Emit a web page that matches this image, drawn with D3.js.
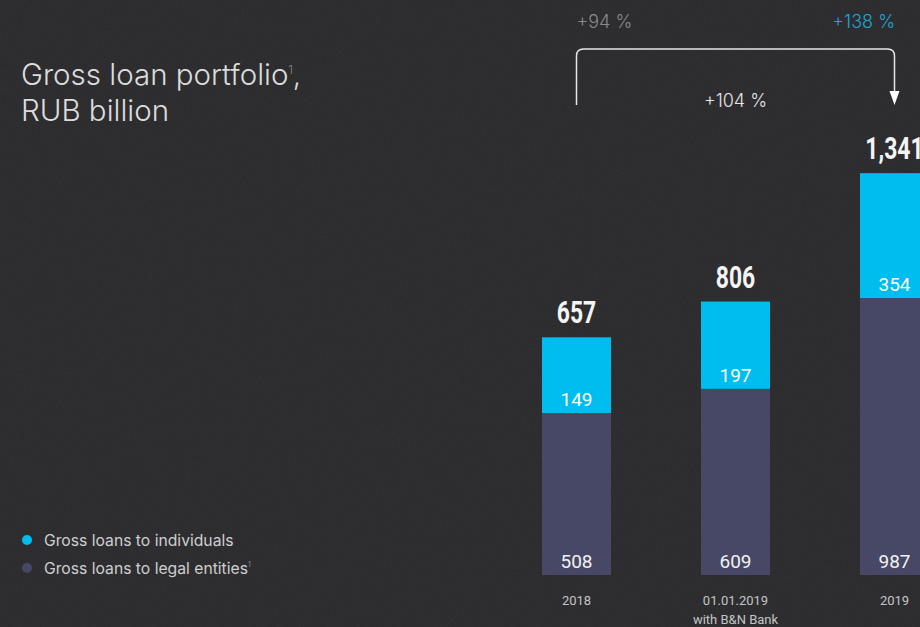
<!DOCTYPE html>
<html>
<head>
<meta charset="utf-8">
<script src="https://cdn.jsdelivr.net/npm/d3@7"></script>
<style>
  html, body { margin: 0; padding: 0; background: #2a2a2d; overflow: hidden; }
  svg { display: block; }
</style>
</head>
<body>
<div id="chart"></div>
<script>
// Chart data
const categories = ["2018", "01.01.2019", "2019"];
const categoryNotes = ["", "with B&N Bank", ""];
const individuals = [149, 197, 354];
const legalEntities = [508, 609, 987];
const totals = [657, 806, 1341];
const growthLabels = ["+94 %", "+104 %", "+138 %"];
const legendLabels = ["Gross loans to individuals", "Gross loans to legal entities"];

const width = 920, height = 627;
const baseline = 575;
const cyan = "#00bdf0";
const navy = "#464865";

const svg = d3.select("#chart").append("svg")
  .attr("width", width)
  .attr("height", height);

// background with a little grain
const defs = svg.append("defs");
const grain = defs.append("filter").attr("id", "grain");
grain.append("feTurbulence")
  .attr("type", "fractalNoise")
  .attr("baseFrequency", 0.9)
  .attr("numOctaves", 2)
  .attr("seed", 3);
grain.append("feColorMatrix").attr("type", "saturate").attr("values", 0);

svg.append("rect").attr("width", width).attr("height", height).attr("fill", "#2a2a2d");
svg.append("rect").attr("width", width).attr("height", height)
  .attr("filter", "url(#grain)").attr("opacity", 0.05);

// x positions of bars
const x = d3.scaleBand()
  .domain(categories)
  .range([542, 929])
  .paddingInner(90 / 159);

// segment heights (the original is not drawn strictly to scale)
const seg = d3.scaleLinear().domain([0, 1000]).range([40, 280]);

const rows = categories.map((c, i) => {
  const hLegal = seg(legalEntities[i]);
  const hInd = seg(individuals[i]);
  return {
    cat: c, note: categoryNotes[i], total: totals[i],
    legal: legalEntities[i], ind: individuals[i],
    yLegal: baseline - hLegal, hLegal: hLegal,
    yInd: baseline - hLegal - hInd, hInd: hInd
  };
});

const bars = svg.append("g").selectAll("g")
  .data(rows)
  .enter().append("g");

bars.append("rect")
  .attr("x", d => x(d.cat))
  .attr("y", d => d.yLegal)
  .attr("width", x.bandwidth())
  .attr("height", d => d.hLegal)
  .attr("fill", navy);

bars.append("rect")
  .attr("x", d => x(d.cat))
  .attr("y", d => d.yInd)
  .attr("width", x.bandwidth())
  .attr("height", d => d.hInd)
  .attr("fill", cyan);

const valueFont = "Roboto, 'Noto Sans', sans-serif";
const textFont = "Inter, Roboto, sans-serif";

// value labels inside segments
bars.append("text")
  .attr("x", d => x(d.cat) + x.bandwidth() / 2)
  .attr("y", baseline - 7)
  .attr("text-anchor", "middle")
  .attr("fill", "#f2f2f2")
  .style("font-family", valueFont)
  .style("font-size", "19px")
  .text(d => d.legal);

bars.append("text")
  .attr("x", d => x(d.cat) + x.bandwidth() / 2)
  .attr("y", d => d.yLegal - 7)
  .attr("text-anchor", "middle")
  .attr("fill", "#ffffff")
  .style("font-family", valueFont)
  .style("font-size", "19px")
  .text(d => d.ind);

// totals above bars, condensed bold figures
bars.append("text")
  .attr("transform", d => `translate(${x(d.cat) + x.bandwidth() / 2},${d.yInd - 14}) scale(0.74,1)`)
  .attr("text-anchor", "middle")
  .attr("fill", "#f4f4f4")
  .style("font-family", valueFont)
  .style("font-weight", "bold")
  .style("font-size", "31px")
  .text(d => d3.format(",")(d.total));

// category labels
bars.append("text")
  .attr("x", d => x(d.cat) + x.bandwidth() / 2)
  .attr("y", 605)
  .attr("text-anchor", "middle")
  .attr("fill", "#c4c4c4")
  .style("font-family", valueFont)
  .style("font-size", "13px")
  .text(d => d.cat);

bars.append("text")
  .attr("x", d => x(d.cat) + x.bandwidth() / 2)
  .attr("y", 624)
  .attr("text-anchor", "middle")
  .attr("fill", "#c4c4c4")
  .style("font-family", valueFont)
  .style("font-size", "13px")
  .text(d => d.note);

// growth bracket from 2018 to 2019
const x0 = x(categories[0]) + x.bandwidth() / 2;
const x2 = x(categories[2]) + x.bandwidth() / 2;
const yTop = 49, r = 7;
svg.append("path")
  .attr("d", `M${x0},105 V${yTop + r} Q${x0},${yTop} ${x0 + r},${yTop} H${x2 - r} Q${x2},${yTop} ${x2},${yTop + r} V92`)
  .attr("fill", "none")
  .attr("stroke", "#e6e6e6")
  .attr("stroke-width", 1.5);
svg.append("path")
  .attr("d", `M${x2 - 5},91 L${x2 + 5},91 L${x2},105 Z`)
  .attr("fill", "#ffffff");

svg.append("text")
  .attr("x", x0).attr("y", 28)
  .attr("fill", "#8a8a8c")
  .style("font-family", textFont).style("font-weight", 300).style("font-size", "18px")
  .text(growthLabels[0]);
svg.append("text")
  .attr("x", x(categories[1]) + x.bandwidth() / 2).attr("y", 107)
  .attr("text-anchor", "middle")
  .attr("fill", "#e6e6e6")
  .style("font-family", textFont).style("font-weight", 300).style("font-size", "18px")
  .text(growthLabels[1]);
svg.append("text")
  .attr("x", 895).attr("y", 28)
  .attr("text-anchor", "end")
  .attr("fill", "#1aa7d6")
  .style("font-family", textFont).style("font-weight", 300).style("font-size", "18px")
  .text(growthLabels[2]);

// title
const title = svg.append("text")
  .attr("x", 21).attr("y", 85)
  .attr("fill", "#dcdcdc")
  .style("font-family", textFont)
  .style("font-weight", 300)
  .style("font-size", "29.5px");
title.append("tspan").text("Gross loan portfolio");
title.append("tspan").attr("dy", -11).style("font-size", "11px").attr("fill", "#8a8a8c").text("1");
title.append("tspan").attr("dy", 11).text(",");
svg.append("text")
  .attr("x", 21).attr("y", 121)
  .attr("fill", "#dcdcdc")
  .style("font-family", textFont)
  .style("font-weight", 300)
  .style("font-size", "29.5px")
  .text("RUB billion");

// legend
const legend = svg.append("g").selectAll("g")
  .data(legendLabels)
  .enter().append("g")
  .attr("transform", (d, i) => `translate(27, ${540 + i * 28})`);

legend.append("circle")
  .attr("r", 5)
  .attr("fill", (d, i) => i === 0 ? cyan : navy);

const legendText = legend.append("text")
  .attr("x", 17).attr("y", 5.5)
  .attr("fill", "#cfcfcf")
  .style("font-family", textFont)
  .style("font-size", "15.7px")
  .text(d => d);

legendText.filter((d, i) => i === 1)
  .append("tspan")
  .attr("dy", -7)
  .style("font-size", "7px")
  .attr("fill", "#8a8a8c")
  .text("1");
</script>
</body>
</html>
